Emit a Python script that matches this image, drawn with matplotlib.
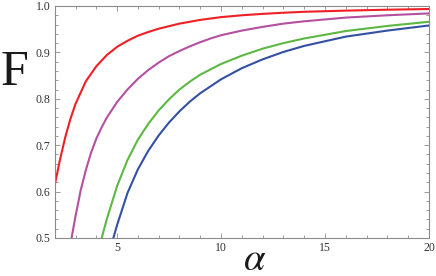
import matplotlib
matplotlib.use("Agg")
import matplotlib.pyplot as plt
from matplotlib.ticker import MultipleLocator

# values
red_alpha = [2.0, 2.25, 2.5, 2.75, 3.0, 3.5, 4.0, 4.5, 5.0, 5.5, 6.0, 6.5, 7.0,
             8.0, 9.0, 10.0, 11.0, 12.0, 13.0, 14.0, 16.0, 18.0, 20.0]
red_F = [0.614, 0.668, 0.716, 0.756, 0.789, 0.838, 0.870, 0.894, 0.912, 0.925,
         0.936, 0.944, 0.951, 0.962, 0.970, 0.976, 0.980, 0.983, 0.9855, 0.9875,
         0.990, 0.992, 0.9935]

magenta_alpha = [2.81, 3.0, 3.25, 3.5, 3.75, 4.0, 4.25, 4.5, 5.0, 5.5, 6.0, 6.5,
                 7.0, 7.5, 8.0, 8.5, 9.0, 9.5, 10.0, 11.0, 12.0, 13.0, 14.0,
                 16.0, 18.0, 20.0]
magenta_F = [0.500, 0.547, 0.603, 0.647, 0.684, 0.714, 0.738, 0.759, 0.793,
             0.820, 0.843, 0.862, 0.878, 0.892, 0.903, 0.913, 0.922, 0.930,
             0.937, 0.947, 0.955, 0.962, 0.967, 0.975, 0.980, 0.984]

green_alpha = [4.26, 4.5, 5.0, 5.5, 6.0, 6.5, 7.0, 7.5, 8.0, 8.5, 9.0, 10.0,
               11.0, 12.0, 13.0, 14.0, 16.0, 18.0, 20.0]
green_F = [0.500, 0.540, 0.612, 0.668, 0.712, 0.746, 0.775, 0.799, 0.820, 0.837,
           0.852, 0.875, 0.893, 0.908, 0.920, 0.930, 0.946, 0.957, 0.966]

blue_alpha = [4.82, 5.0, 5.5, 6.0, 6.5, 7.0, 7.5, 8.0, 8.5, 9.0, 10.0, 11.0,
              12.0, 13.0, 14.0, 16.0, 18.0, 20.0]
blue_F = [0.500, 0.528, 0.597, 0.648, 0.688, 0.721, 0.749, 0.773, 0.794, 0.812,
          0.842, 0.866, 0.885, 0.901, 0.914, 0.934, 0.947, 0.958]

xticks = [5, 10, 15, 20]
yticks = [0.5, 0.6, 0.7, 0.8, 0.9, 1.0]

fig = plt.figure(figsize=(4.36, 2.76), dpi=100)
ax = fig.add_axes([0.1255, 0.1377, 0.9839 - 0.1255, 0.9783 - 0.1377])

lw = 1.5
ax.plot(red_alpha, red_F, color="#ee1f25", lw=lw)
ax.plot(magenta_alpha, magenta_F, color="#b450a0", lw=lw)
ax.plot(green_alpha, green_F, color="#5db843", lw=lw)
ax.plot(blue_alpha, blue_F, color="#3450a2", lw=lw)

ax.set_xlim(2, 20)
ax.set_ylim(0.5, 1.0)
ax.set_xticks(xticks)
ax.set_yticks(yticks)
ax.set_xticklabels([str(t) for t in xticks])
ax.set_yticklabels(["%.1f" % t for t in yticks])
ax.xaxis.set_minor_locator(MultipleLocator(1))
ax.yaxis.set_minor_locator(MultipleLocator(0.02))

for s in ax.spines.values():
    s.set_color("#8c8c8c")
    s.set_linewidth(0.8)
ax.tick_params(which="both", direction="in", top=True, right=True,
               color="#8c8c8c", width=0.6)
ax.tick_params(which="major", length=3.5, pad=3)
ax.tick_params(which="minor", length=2)
for lab in ax.get_xticklabels() + ax.get_yticklabels():
    lab.set_family("Liberation Serif")
    lab.set_fontsize(8.5)
    lab.set_color("#333333")

fig.text(0.034, 0.737, "F", family="Liberation Serif", fontsize=36,
         ha="center", va="center", color="#1a1a1a")
fig.text(0.585, 0.062, r"$\alpha$", math_fontfamily="stix", fontsize=28,
         ha="center", va="center", color="#1a1a1a")

fig.savefig("out.png", dpi=100)
